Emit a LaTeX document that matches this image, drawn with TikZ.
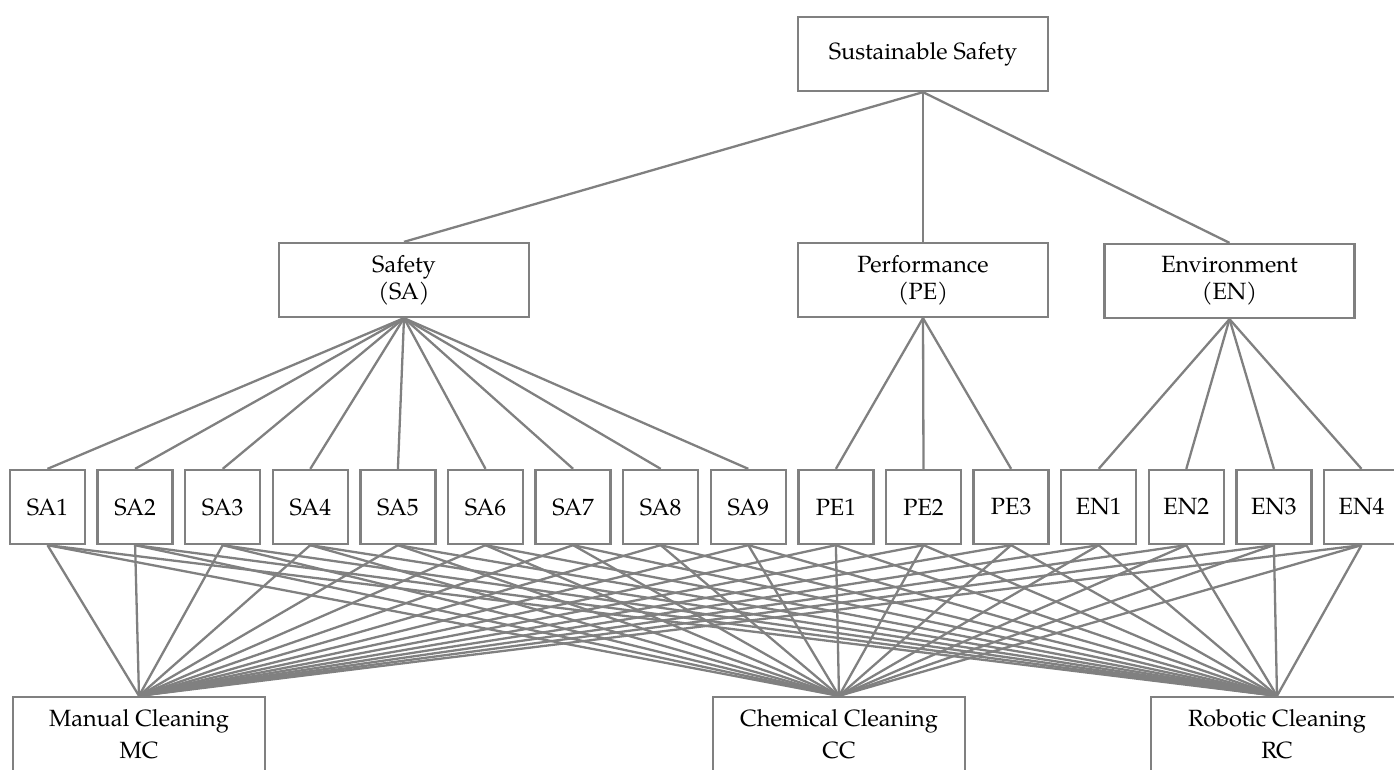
\documentclass[tikz,border=0pt]{standalone}
\usepackage{fontspec}
\setmainfont{TeX Gyre Pagella}
\definecolor{edgegray}{RGB}{128,128,128}
\tikzset{
  crit/.style={draw=edgegray, line width=2.3pt, minimum width=250pt, minimum height=74pt,
    inner sep=0pt, align=center, font=\fontsize{23.5}{27}\selectfont},
  leaf/.style={draw=edgegray, line width=2.3pt, minimum width=75pt, minimum height=74pt,
    inner sep=0pt, font=\fontsize{23.5}{27}\selectfont},
  alt/.style={crit, minimum width=252pt, font=\fontsize{23.5}{32}\selectfont},
  link/.style={edgegray, line width=2.3pt}
}

\begin{document}
\begin{tikzpicture}[x=1pt, y=-1pt]
\useasboundingbox (0,0) rectangle (1394,770);
\clip (0,0) rectangle (1394,770);

% goal and criteria
\node[crit] (sust) at (923,54) {Sustainable Safety};
\node[crit] (sa) at (404,280) {Safety\\(SA)};
\node[crit] (pe) at (923,280) {Performance\\(PE)};
\node[crit] (en) at (1229.5,281) {Environment\\(EN)};

% sub-criteria
\foreach \lbl [count=\i from 0] in {SA1,SA2,SA3,SA4,SA5,SA6,SA7,SA8,SA9,PE1,PE2,PE3,EN1,EN2,EN3,EN4}
  \node[leaf] (\lbl) at ({47.5+87.6*\i},507) {\lbl};

% alternatives
\node[alt] (mc) at (139,734) {Manual Cleaning\\MC};
\node[alt] (cc) at (839,734) {Chemical Cleaning\\CC};
\node[alt] (rc) at (1277,734) {Robotic Cleaning\\RC};

% links
\foreach \crit in {sa,pe,en}
  \draw[link] (sust.south) -- (\crit.north);
\foreach \lbl in {SA1,SA2,SA3,SA4,SA5,SA6,SA7,SA8,SA9}
  \draw[link] (sa.south) -- (\lbl.north);
\foreach \lbl in {PE1,PE2,PE3}
  \draw[link] (pe.south) -- (\lbl.north);
\foreach \lbl in {EN1,EN2,EN3,EN4}
  \draw[link] (en.south) -- (\lbl.north);
\foreach \lbl in {SA1,SA2,SA3,SA4,SA5,SA6,SA7,SA8,SA9,PE1,PE2,PE3,EN1,EN2,EN3,EN4}
  \foreach \alt in {mc,cc,rc}
    \draw[link] (\lbl.south) -- (\alt.north);
\end{tikzpicture}
\end{document}
